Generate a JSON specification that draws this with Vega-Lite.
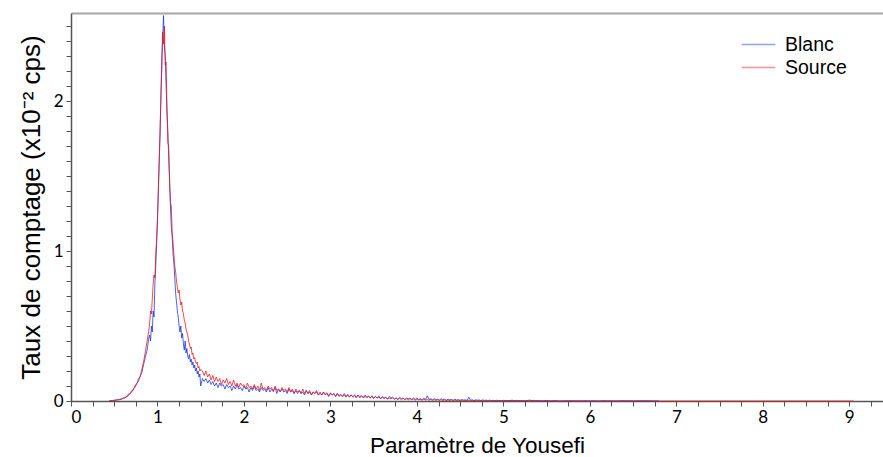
{
"$schema": "https://vega.github.io/schema/vega-lite/v6.json",
"width": 812, "height": 388,
"autosize": {"type": "none"},
"padding": {"left": 71, "top": 13, "right": 0, "bottom": 56},
"background": "white",
"view": {"stroke": null},
"data": {"values": [
{"x":0.44,"Blanc":0,"Source":0},{"x":0.46,"Blanc":0.002,"Source":0},{"x":0.48,"Blanc":0.004,"Source":0.003},{"x":0.50,"Blanc":0.003,"Source":0.006},{"x":0.52,"Blanc":0.008,"Source":0.004},{"x":0.54,"Blanc":0.006,"Source":0.010},{"x":0.56,"Blanc":0.012,"Source":0.008},{"x":0.58,"Blanc":0.010,"Source":0.016},{"x":0.60,"Blanc":0.020,"Source":0.014},{"x":0.62,"Blanc":0.018,"Source":0.026},{"x":0.64,"Blanc":0.030,"Source":0.024},{"x":0.66,"Blanc":0.034,"Source":0.044},{"x":0.68,"Blanc":0.050,"Source":0.046},{"x":0.70,"Blanc":0.058,"Source":0.068},{"x":0.72,"Blanc":0.078,"Source":0.072},{"x":0.74,"Blanc":0.092,"Source":0.104},{"x":0.76,"Blanc":0.118,"Source":0.110},{"x":0.78,"Blanc":0.130,"Source":0.150},{"x":0.80,"Blanc":0.168,"Source":0.160},{"x":0.82,"Blanc":0.190,"Source":0.215},{"x":0.84,"Blanc":0.245,"Source":0.262},{"x":0.86,"Blanc":0.290,"Source":0.330},{"x":0.88,"Blanc":0.340,"Source":0.400},{"x":0.90,"Blanc":0.420,"Source":0.470},
{"x":0.91,"Blanc":0.44,"Source":0.52},{"x":0.92,"Blanc":0.40,"Source":0.60},{"x":0.93,"Blanc":0.50,"Source":0.58},{"x":0.94,"Blanc":0.46,"Source":0.68},{"x":0.95,"Blanc":0.60,"Source":0.78},{"x":0.96,"Blanc":0.56,"Source":0.84},{"x":0.97,"Blanc":0.78,"Source":0.82},{"x":0.98,"Blanc":0.90,"Source":0.98},{"x":0.99,"Blanc":1.05,"Source":1.08},{"x":1.00,"Blanc":1.20,"Source":1.22},{"x":1.01,"Blanc":1.40,"Source":1.40},{"x":1.02,"Blanc":1.62,"Source":1.58},{"x":1.03,"Blanc":1.80,"Source":1.78},{"x":1.04,"Blanc":2.02,"Source":2.05},{"x":1.05,"Blanc":2.30,"Source":2.20},{"x":1.06,"Blanc":2.42,"Source":2.46},{"x":1.07,"Blanc":2.57,"Source":2.38},{"x":1.08,"Blanc":2.36,"Source":2.50},{"x":1.09,"Blanc":2.30,"Source":2.24},{"x":1.10,"Blanc":2.10,"Source":2.26},{"x":1.11,"Blanc":1.92,"Source":1.95},{"x":1.12,"Blanc":1.80,"Source":1.72},{"x":1.13,"Blanc":1.62,"Source":1.70},{"x":1.14,"Blanc":1.48,"Source":1.45},{"x":1.15,"Blanc":1.30,"Source":1.32},{"x":1.16,"Blanc":1.16,"Source":1.30},{"x":1.17,"Blanc":1.10,"Source":1.12},{"x":1.18,"Blanc":0.98,"Source":1.06},{"x":1.19,"Blanc":0.92,"Source":0.98},{"x":1.20,"Blanc":0.82,"Source":0.90},{"x":1.21,"Blanc":0.72,"Source":0.86},{"x":1.22,"Blanc":0.66,"Source":0.80},{"x":1.23,"Blanc":0.60,"Source":0.76},{"x":1.24,"Blanc":0.56,"Source":0.72},{"x":1.25,"Blanc":0.50,"Source":0.74},
{"x":1.26,"Blanc":0.46,"Source":0.68},{"x":1.27,"Blanc":0.50,"Source":0.64},{"x":1.28,"Blanc":0.42,"Source":0.66},{"x":1.29,"Blanc":0.45,"Source":0.60},{"x":1.30,"Blanc":0.38,"Source":0.58},{"x":1.31,"Blanc":0.34,"Source":0.54},{"x":1.32,"Blanc":0.40,"Source":0.52},{"x":1.33,"Blanc":0.32,"Source":0.48},{"x":1.34,"Blanc":0.35,"Source":0.46},{"x":1.35,"Blanc":0.30,"Source":0.44},{"x":1.36,"Blanc":0.28,"Source":0.40},{"x":1.37,"Blanc":0.31,"Source":0.38},{"x":1.38,"Blanc":0.26,"Source":0.35},{"x":1.39,"Blanc":0.28,"Source":0.36},{"x":1.40,"Blanc":0.24,"Source":0.31},{"x":1.41,"Blanc":0.26,"Source":0.32},{"x":1.42,"Blanc":0.22,"Source":0.28},{"x":1.43,"Blanc":0.24,"Source":0.29},{"x":1.44,"Blanc":0.20,"Source":0.26},{"x":1.45,"Blanc":0.22,"Source":0.25},{"x":1.46,"Blanc":0.18,"Source":0.26},{"x":1.47,"Blanc":0.20,"Source":0.22},{"x":1.48,"Blanc":0.16,"Source":0.23},{"x":1.49,"Blanc":0.18,"Source":0.20},{"x":1.50,"Blanc":0.10,"Source":0.21},
{"x":1.52,"Blanc":0.15,"Source":0.20},{"x":1.54,"Blanc":0.13,"Source":0.17},{"x":1.56,"Blanc":0.15,"Source":0.20},{"x":1.58,"Blanc":0.12,"Source":0.16},{"x":1.60,"Blanc":0.14,"Source":0.18},{"x":1.62,"Blanc":0.11,"Source":0.14},{"x":1.64,"Blanc":0.13,"Source":0.17},{"x":1.66,"Blanc":0.10,"Source":0.13},{"x":1.68,"Blanc":0.12,"Source":0.16},{"x":1.70,"Blanc":0.09,"Source":0.13},{"x":1.72,"Blanc":0.12,"Source":0.15},{"x":1.74,"Blanc":0.10,"Source":0.11},{"x":1.76,"Blanc":0.11,"Source":0.14},{"x":1.78,"Blanc":0.08,"Source":0.12},{"x":1.80,"Blanc":0.11,"Source":0.15},{"x":1.82,"Blanc":0.09,"Source":0.11},{"x":1.84,"Blanc":0.10,"Source":0.13},{"x":1.86,"Blanc":0.07,"Source":0.10},{"x":1.88,"Blanc":0.10,"Source":0.14},{"x":1.90,"Blanc":0.08,"Source":0.10},{"x":1.92,"Blanc":0.11,"Source":0.12},{"x":1.94,"Blanc":0.08,"Source":0.09},{"x":1.96,"Blanc":0.09,"Source":0.12},{"x":1.98,"Blanc":0.07,"Source":0.10},{"x":2.00,"Blanc":0.10,"Source":0.11},
{"x":2.02,"Blanc":0.08,"Source":0.08},{"x":2.04,"Blanc":0.09,"Source":0.12},{"x":2.06,"Blanc":0.06,"Source":0.09},{"x":2.08,"Blanc":0.09,"Source":0.10},{"x":2.10,"Blanc":0.07,"Source":0.08},{"x":2.12,"Blanc":0.10,"Source":0.11},{"x":2.14,"Blanc":0.07,"Source":0.08},{"x":2.16,"Blanc":0.08,"Source":0.10},{"x":2.18,"Blanc":0.06,"Source":0.07},{"x":2.20,"Blanc":0.09,"Source":0.12},{"x":2.22,"Blanc":0.07,"Source":0.08},{"x":2.24,"Blanc":0.08,"Source":0.09},{"x":2.26,"Blanc":0.06,"Source":0.07},{"x":2.28,"Blanc":0.09,"Source":0.10},{"x":2.30,"Blanc":0.06,"Source":0.08},{"x":2.32,"Blanc":0.08,"Source":0.09},{"x":2.34,"Blanc":0.07,"Source":0.06},{"x":2.36,"Blanc":0.09,"Source":0.10},{"x":2.38,"Blanc":0.05,"Source":0.07},{"x":2.40,"Blanc":0.08,"Source":0.08},{"x":2.42,"Blanc":0.06,"Source":0.06},{"x":2.44,"Blanc":0.08,"Source":0.09},{"x":2.46,"Blanc":0.06,"Source":0.07},{"x":2.48,"Blanc":0.07,"Source":0.08},{"x":2.50,"Blanc":0.05,"Source":0.06},
{"x":2.52,"Blanc":0.08,"Source":0.09},{"x":2.54,"Blanc":0.06,"Source":0.06},{"x":2.56,"Blanc":0.07,"Source":0.08},{"x":2.58,"Blanc":0.05,"Source":0.05},{"x":2.60,"Blanc":0.07,"Source":0.08},{"x":2.62,"Blanc":0.05,"Source":0.06},{"x":2.64,"Blanc":0.07,"Source":0.07},{"x":2.66,"Blanc":0.05,"Source":0.05},{"x":2.68,"Blanc":0.06,"Source":0.08},{"x":2.70,"Blanc":0.04,"Source":0.05},{"x":2.72,"Blanc":0.07,"Source":0.07},{"x":2.74,"Blanc":0.05,"Source":0.05},{"x":2.76,"Blanc":0.06,"Source":0.07},{"x":2.78,"Blanc":0.04,"Source":0.04},{"x":2.80,"Blanc":0.06,"Source":0.06},{"x":2.82,"Blanc":0.05,"Source":0.05},{"x":2.84,"Blanc":0.06,"Source":0.07},{"x":2.86,"Blanc":0.04,"Source":0.04},{"x":2.88,"Blanc":0.05,"Source":0.06},{"x":2.90,"Blanc":0.04,"Source":0.04},{"x":2.92,"Blanc":0.06,"Source":0.06},{"x":2.94,"Blanc":0.04,"Source":0.045},{"x":2.96,"Blanc":0.05,"Source":0.055},{"x":2.98,"Blanc":0.03,"Source":0.035},{"x":3.00,"Blanc":0.05,"Source":0.055},
{"x":3.02,"Blanc":0.04,"Source":0.04},{"x":3.04,"Blanc":0.05,"Source":0.05},{"x":3.06,"Blanc":0.03,"Source":0.03},{"x":3.08,"Blanc":0.05,"Source":0.05},{"x":3.10,"Blanc":0.03,"Source":0.035},{"x":3.12,"Blanc":0.04,"Source":0.045},{"x":3.14,"Blanc":0.03,"Source":0.03},{"x":3.16,"Blanc":0.05,"Source":0.04},{"x":3.18,"Blanc":0.03,"Source":0.025},{"x":3.20,"Blanc":0.04,"Source":0.045},{"x":3.22,"Blanc":0.025,"Source":0.03},{"x":3.24,"Blanc":0.04,"Source":0.04},{"x":3.26,"Blanc":0.03,"Source":0.025},{"x":3.28,"Blanc":0.04,"Source":0.035},{"x":3.30,"Blanc":0.02,"Source":0.03},{"x":3.32,"Blanc":0.04,"Source":0.04},{"x":3.34,"Blanc":0.03,"Source":0.02},{"x":3.36,"Blanc":0.035,"Source":0.035},{"x":3.38,"Blanc":0.02,"Source":0.025},{"x":3.40,"Blanc":0.04,"Source":0.03},{"x":3.42,"Blanc":0.025,"Source":0.02},{"x":3.44,"Blanc":0.03,"Source":0.035},{"x":3.46,"Blanc":0.02,"Source":0.02},{"x":3.48,"Blanc":0.035,"Source":0.03},{"x":3.50,"Blanc":0.02,"Source":0.015},
{"x":3.52,"Blanc":0.03,"Source":0.03},{"x":3.54,"Blanc":0.02,"Source":0.02},{"x":3.56,"Blanc":0.035,"Source":0.025},{"x":3.58,"Blanc":0.015,"Source":0.015},{"x":3.60,"Blanc":0.03,"Source":0.025},{"x":3.62,"Blanc":0.02,"Source":0.015},{"x":3.64,"Blanc":0.025,"Source":0.025},{"x":3.66,"Blanc":0.015,"Source":0.012},{"x":3.68,"Blanc":0.03,"Source":0.02},{"x":3.70,"Blanc":0.02,"Source":0.015},{"x":3.72,"Blanc":0.025,"Source":0.02},{"x":3.74,"Blanc":0.015,"Source":0.01},{"x":3.76,"Blanc":0.02,"Source":0.02},{"x":3.78,"Blanc":0.01,"Source":0.012},{"x":3.80,"Blanc":0.025,"Source":0.018},{"x":3.82,"Blanc":0.015,"Source":0.008},{"x":3.84,"Blanc":0.02,"Source":0.018},{"x":3.86,"Blanc":0.01,"Source":0.01},{"x":3.88,"Blanc":0.02,"Source":0.015},{"x":3.90,"Blanc":0.015,"Source":0.008},{"x":3.92,"Blanc":0.02,"Source":0.015},{"x":3.94,"Blanc":0.01,"Source":0.01},{"x":3.96,"Blanc":0.02,"Source":0.012},{"x":3.98,"Blanc":0.01,"Source":0.006},{"x":4.00,"Blanc":0.02,"Source":0.012},
{"x":4.02,"Blanc":0.01,"Source":0.008},{"x":4.04,"Blanc":0.015,"Source":0.01},{"x":4.06,"Blanc":0.008,"Source":0.005},{"x":4.08,"Blanc":0.02,"Source":0.012},{"x":4.10,"Blanc":0.01,"Source":0.006},{"x":4.12,"Blanc":0.035,"Source":0.01},{"x":4.14,"Blanc":0.01,"Source":0.005},{"x":4.16,"Blanc":0.015,"Source":0.01},{"x":4.18,"Blanc":0.008,"Source":0.005},{"x":4.20,"Blanc":0.015,"Source":0.009},{"x":4.22,"Blanc":0.01,"Source":0.004},{"x":4.24,"Blanc":0.012,"Source":0.008},{"x":4.26,"Blanc":0.006,"Source":0.005},{"x":4.28,"Blanc":0.015,"Source":0.008},{"x":4.30,"Blanc":0.008,"Source":0.003},{"x":4.32,"Blanc":0.012,"Source":0.007},{"x":4.34,"Blanc":0.005,"Source":0.004},{"x":4.36,"Blanc":0.012,"Source":0.006},{"x":4.38,"Blanc":0.008,"Source":0.003},{"x":4.40,"Blanc":0.01,"Source":0.007},{"x":4.42,"Blanc":0.005,"Source":0.003},{"x":4.44,"Blanc":0.012,"Source":0.006},{"x":4.46,"Blanc":0.006,"Source":0.002},{"x":4.48,"Blanc":0.01,"Source":0.005},{"x":4.50,"Blanc":0.004,"Source":0.003},
{"x":4.52,"Blanc":0.01,"Source":0.005},{"x":4.54,"Blanc":0.006,"Source":0.002},{"x":4.56,"Blanc":0.008,"Source":0.004},{"x":4.58,"Blanc":0.004,"Source":0.002},{"x":4.60,"Blanc":0.025,"Source":0.004},{"x":4.62,"Blanc":0.005,"Source":0.001},{"x":4.64,"Blanc":0.008,"Source":0.004},{"x":4.66,"Blanc":0.003,"Source":0.002},{"x":4.68,"Blanc":0.008,"Source":0.003},{"x":4.70,"Blanc":0.005,"Source":0.001},{"x":4.72,"Blanc":0.007,"Source":0.003},{"x":4.74,"Blanc":0.003,"Source":0.002},{"x":4.76,"Blanc":0.007,"Source":0.003},{"x":4.78,"Blanc":0.004,"Source":0.001},{"x":4.80,"Blanc":0.006,"Source":0.003},{"x":4.82,"Blanc":0.002,"Source":0.001},{"x":4.84,"Blanc":0.006,"Source":0.002},{"x":4.86,"Blanc":0.003,"Source":0.001},{"x":4.88,"Blanc":0.005,"Source":0.002},{"x":4.90,"Blanc":0.002,"Source":0.001},{"x":4.92,"Blanc":0.005,"Source":0.002},{"x":4.94,"Blanc":0.003,"Source":0.001},{"x":4.96,"Blanc":0.004,"Source":0.002},{"x":4.98,"Blanc":0.002,"Source":0.001},{"x":5.00,"Blanc":0.004,"Source":0.001},
{"x":5.05,"Blanc":0.002,"Source":0.003},{"x":5.10,"Blanc":0.005,"Source":0.001},{"x":5.15,"Blanc":0.001,"Source":0.004},{"x":5.20,"Blanc":0.003,"Source":0.001},{"x":5.25,"Blanc":0,"Source":0.003},{"x":5.30,"Blanc":0.006,"Source":0.002},{"x":5.35,"Blanc":0.001,"Source":0.004},{"x":5.40,"Blanc":0.003,"Source":0},{"x":5.45,"Blanc":0,"Source":0.002},{"x":5.50,"Blanc":0.002,"Source":0.004},{"x":5.55,"Blanc":0,"Source":0.001},{"x":5.60,"Blanc":0.002,"Source":0.002},{"x":5.65,"Blanc":0,"Source":0},{"x":5.70,"Blanc":0,"Source":0.001},{"x":5.75,"Blanc":0.002,"Source":0},{"x":5.80,"Blanc":0,"Source":0.002},{"x":5.85,"Blanc":0.001,"Source":0},{"x":5.90,"Blanc":0,"Source":0.001},{"x":5.95,"Blanc":0.002,"Source":0},{"x":6.00,"Blanc":0,"Source":0},{"x":6.05,"Blanc":0,"Source":0.002},{"x":6.10,"Blanc":0,"Source":0},{"x":6.15,"Blanc":0.002,"Source":0},{"x":6.20,"Blanc":0,"Source":0.001},{"x":6.25,"Blanc":0,"Source":0.002},{"x":6.30,"Blanc":0,"Source":0},{"x":6.40,"Blanc":0.002,"Source":0},{"x":6.50,"Blanc":0,"Source":0.001},{"x":6.60,"Blanc":0,"Source":0.002},{"x":6.70,"Blanc":0.001,"Source":0},{"x":6.80,"Blanc":0,"Source":0},{"x":9.05,"Source":0}
]},
"layer": [
{
"transform": [{"fold": ["Blanc", "Source"], "as": ["serie", "taux"]}],
"mark": {"type": "line", "strokeWidth": 1, "opacity": 0.75},
"encoding": {
"x": {"field": "x", "type": "quantitative",
"scale": {"domain": [0, 9.39], "nice": false, "zero": false},
"axis": {"orient": "bottom", "title": "Paramètre de Yousefi",
"values": [0,0.25,0.5,0.75,1,1.25,1.5,1.75,2,2.25,2.5,2.75,3,3.25,3.5,3.75,4,4.25,4.5,4.75,5,5.25,5.5,5.75,6,6.25,6.5,6.75,7,7.25,7.5,7.75,8,8.25,8.5,8.75,9,9.25],
"labelExpr": "datum.value % 1 == 0 ? '' + datum.value : ''",
"titlePadding": 9, "titleFontSize": 22.5}},
"y": {"field": "taux", "type": "quantitative",
"scale": {"domain": [0, 2.587], "nice": false},
"axis": {"orient": "left", "title": "Taux de comptage (x10⁻² cps)",
"values": [0,0.1,0.2,0.3,0.4,0.5,0.6,0.7,0.8,0.9,1,1.1,1.2,1.3,1.4,1.5,1.6,1.7,1.8,1.9,2,2.1,2.2,2.3,2.4,2.5],
"labelExpr": "datum.value % 1 == 0 ? '' + datum.value : ''",
"titlePadding": 9, "titleFontSize": 26}},
"color": {"field": "serie", "type": "nominal",
"scale": {"domain": ["Blanc", "Source"], "range": ["#1030e8", "#ee1010"]},
"legend": {"orient": "none", "legendX": 676, "legendY": 20, "title": null,
"symbolType": "M-1.6,0H1.6", "symbolSize": 441, "symbolStrokeWidth": 1.5, "symbolOpacity": 0.45,
"labelFont": "Liberation Sans", "labelFontSize": 19.5, "labelColor": "#000", "labelOffset": 15, "rowPadding": 2}}
}
},
{
"mark": {"type": "point", "opacity": 0},
"encoding": {
"x": {"field": "x", "type": "quantitative",
"axis": {"orient": "top", "title": null, "labels": false, "ticks": false, "domainColor": "#a6a6a6", "domainWidth": 2}}
}
}
],
"resolve": {"axis": {"x": "independent"}},
"config": {
"axis": {"labelFont": "Lato", "titleFont": "Liberation Sans", "labelFontSize": 17, "titleFontSize": 22, "titleFontWeight": "normal",
"labelColor": "#000", "titleColor": "#000", "domainColor": "#555", "domainWidth": 1.5, "tickColor": "#555", "tickSize": 5, "grid": false, "labelPadding": 3}
}
}
